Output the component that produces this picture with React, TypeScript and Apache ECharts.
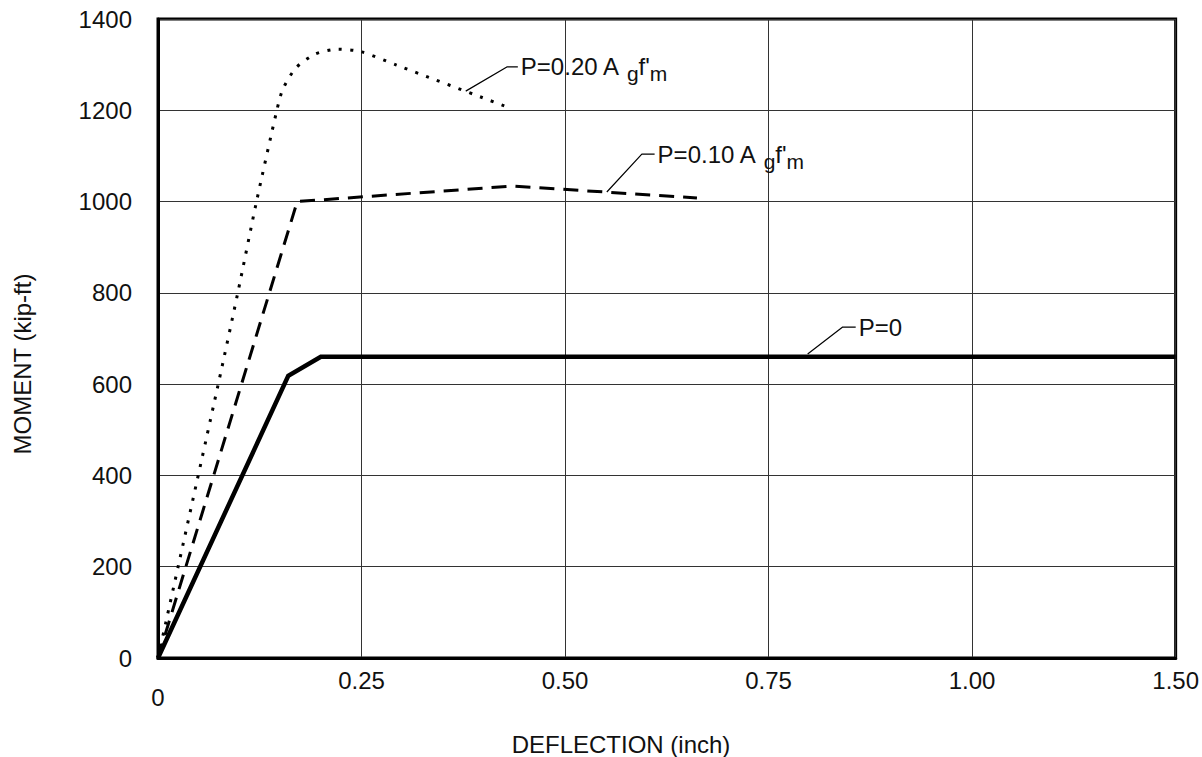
import React, { useEffect, useRef } from 'react';
import * as echarts from 'echarts';

// Axis tick labels (as printed on the original chart)
const xTickLabels = ['0', '0.25', '0.50', '0.75', '1.00', '1.50'];

// P = 0 (solid)
const p0Deflection = [0, 0.16, 0.2, 1.25];
const p0Moment = [0, 618, 660, 660];

// P = 0.10 Ag f'm (dashed)
const p10Deflection = [0, 0.171, 0.435, 0.662];
const p10Moment = [0, 1000, 1034, 1008];

// P = 0.20 Ag f'm (dotted)
const p20Deflection = [0, 0.074, 0.098, 0.121, 0.146, 0.1535, 0.1695, 0.193, 0.221, 0.25, 0.293, 0.435];
const p20Moment = [0, 600, 800, 1000, 1200, 1247, 1293, 1323, 1334, 1328, 1299, 1203];

// Annotation leader lines (data coordinates)
const leaderP0X = [0.798, 0.841, 0.857];
const leaderP0Y = [666, 725, 725];
const leaderP10X = [0.5513, 0.5943, 0.61];
const leaderP10Y = [1021, 1104, 1104];
const leaderP20X = [0.378, 0.4285, 0.442];
const leaderP20Y = [1242, 1295, 1295];

const FONT = '"Liberation Sans", Arial, Helvetica, sans-serif';
const TEXT = '#111';

const zip = (xs: number[], ys: number[]) => xs.map((x, i) => [x, ys[i]]);

const richLabel = {
  n: { fontSize: 24, fontFamily: FONT, color: TEXT },
  s: { fontSize: 21, fontFamily: FONT, color: TEXT, padding: [14, 0, 0, 0] },
};

function leaderSeries(name: string, xs: number[], ys: number[], labelText: string) {
  return {
    name,
    type: 'line',
    data: zip(xs, ys),
    symbol: 'none',
    showSymbol: false,
    silent: true,
    lineStyle: { color: '#000', width: 1.2 },
    endLabel: {
      show: true,
      distance: 3,
      formatter: () => labelText,
      rich: richLabel,
    },
    z: 5,
  };
}

export default function App() {
  const ref = useRef<HTMLDivElement>(null);

  useEffect(() => {
    if (!ref.current) return;
    const chart = echarts.init(ref.current, undefined, { renderer: 'svg' });
    const option: any = {
      animation: false,
      backgroundColor: '#fff',
      textStyle: { fontFamily: FONT },
      grid: {
        left: 158,
        right: 26,
        top: 19,
        bottom: 99,
        show: true,
        borderColor: '#000',
        borderWidth: 3,
        containLabel: false,
      },
      xAxis: {
        type: 'value',
        min: 0,
        max: 1.25,
        interval: 0.25,
        axisLine: { show: true, lineStyle: { color: '#000', width: 3 } },
        axisTick: { show: false },
        splitLine: { show: true, lineStyle: { color: '#333', width: 1 } },
        axisLabel: {
          margin: 10,
          fontSize: 24,
          fontFamily: FONT,
          color: TEXT,
          showMinLabel: true,
          showMaxLabel: true,
          formatter: (v: number) => {
            const i = Math.round(v / 0.25);
            return i === 0 ? '{low|' + xTickLabels[0] + '}' : xTickLabels[i] ?? '';
          },
          rich: {
            low: { fontSize: 24, fontFamily: FONT, color: TEXT, padding: [17, 0, 0, 0] },
          },
        },
      },
      yAxis: {
        type: 'value',
        min: 0,
        max: 1400,
        interval: 200,
        axisLine: { show: true, lineStyle: { color: '#000', width: 3 } },
        axisTick: { show: false },
        splitLine: { show: true, lineStyle: { color: '#333', width: 1 } },
        axisLabel: {
          margin: 26,
          fontSize: 24,
          fontFamily: FONT,
          color: TEXT,
          formatter: (v: number) => String(v),
        },
      },
      graphic: [
        {
          type: 'text',
          x: 621,
          y: 744,
          style: {
            text: 'DEFLECTION (inch)',
            fontSize: 24,
            fontFamily: FONT,
            fill: TEXT,
            textAlign: 'center',
            textVerticalAlign: 'middle',
          },
        },
        {
          type: 'text',
          x: 22,
          y: 364,
          rotation: Math.PI / 2,
          style: {
            text: 'MOMENT (kip-ft)',
            fontSize: 24,
            fontFamily: FONT,
            fill: TEXT,
            textAlign: 'center',
            textVerticalAlign: 'middle',
          },
        },
      ],
      series: [
        {
          name: 'P=0',
          type: 'line',
          data: zip(p0Deflection, p0Moment),
          symbol: 'none',
          lineStyle: { color: '#000', width: 4.5, join: 'miter' },
          z: 3,
        },
        {
          name: 'P=0.10',
          type: 'line',
          data: zip(p10Deflection, p10Moment),
          symbol: 'none',
          lineStyle: { color: '#000', width: 3, type: [15, 9] },
          z: 3,
        },
        {
          name: 'P=0.20',
          type: 'line',
          data: zip(p20Deflection, p20Moment),
          symbol: 'none',
          smooth: 0.25,
          lineStyle: { color: '#000', width: 3, type: [3, 8.5] },
          z: 3,
        },
        leaderSeries('leader0', leaderP0X, leaderP0Y, '{n|P=0}'),
        leaderSeries('leader10', leaderP10X, leaderP10Y, "{n|P=0.10 A }{s|g}{n|f'}{s|m}"),
        leaderSeries('leader20', leaderP20X, leaderP20Y, "{n|P=0.20 A }{s|g}{n|f'}{s|m}"),
      ],
    };
    chart.setOption(option);
    return () => chart.dispose();
  }, []);

  return (
    <div
      ref={ref}
      style={{ position: 'fixed', left: 0, top: 0, width: 1202, height: 757, background: '#fff' }}
    />
  );
}
